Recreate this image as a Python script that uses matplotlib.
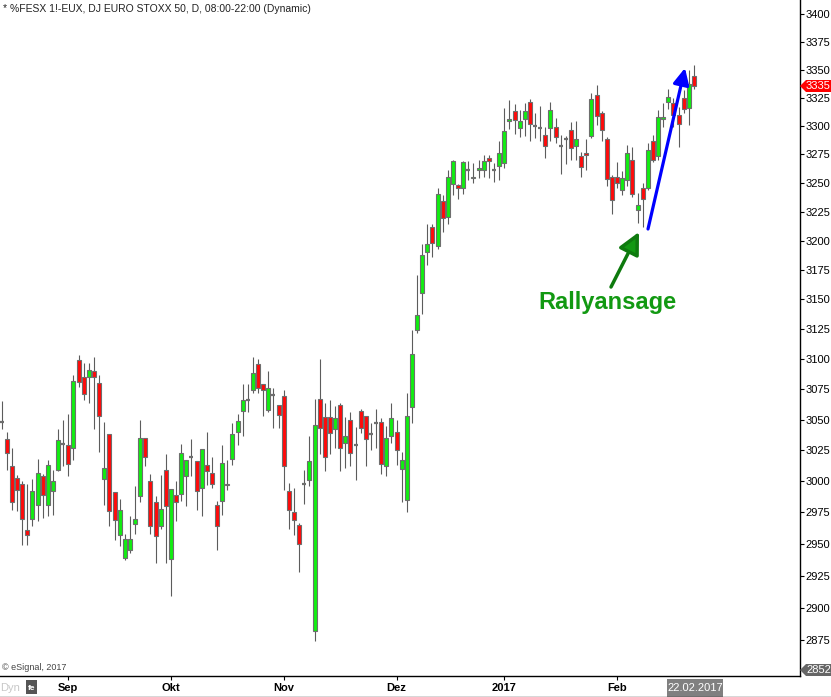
import matplotlib
matplotlib.use('Agg')
import matplotlib.pyplot as plt
from matplotlib.patches import Polygon, Rectangle
from matplotlib.lines import Line2D
from matplotlib.ticker import FixedLocator, FuncFormatter, NullLocator
import numpy as np

plt.rcParams['font.family'] = ['Liberation Sans', 'DejaVu Sans']

# ---- data (daily OHLC, 16.08.2016 - 22.02.2017) ----
opens = [3048, 3034, 3012, 3003, 2998, 2961, 2970, 2981, 3004, 2981,
         2992, 3009, 3030, 3029, 3027, 3099, 3085, 3085, 3090, 3080,
         3002, 3038, 2991, 2957, 2939, 2945, 2966, 2988, 3035, 3000,
         2983, 2964, 3009, 2938, 2989, 2990, 3004, 3020, 3016, 2995,
         3013, 3007, 2981, 2984, 2998, 3018, 3040, 3057, 3066, 3074,
         3096, 3079, 3058, 3070, 3062, 3069, 2992, 2975, 2965, 2998,
         3001, 2882, 3067, 3052, 3052, 3042, 3062, 3031, 3050, 3029,
         3057, 3053, 3038, 3047, 3048, 3012, 3037, 3040, 3010, 2985,
         3060, 3124, 3155, 3190, 3212, 3195, 3234, 3220, 3249, 3248,
         3245, 3261, 3254, 3261, 3261, 3272, 3261, 3265, 3267, 3304,
         3313, 3298, 3306, 3321, 3300, 3298, 3292, 3298, 3299, 3282,
         3288, 3296, 3282, 3273, 3276, 3291, 3327, 3311, 3288, 3255,
         3255, 3244, 3252, 3270, 3226, 3245, 3245, 3287, 3273, 3306,
         3321, 3320, 3310, 3325, 3316, 3344]
highs = [3065, 3040, 3027, 3005, 3000, 2998, 3002, 3018, 3006, 3017,
         3009, 3042, 3050, 3055, 3087, 3103, 3097, 3097, 3102, 3087,
         3048, 3038, 2991, 2986, 2958, 2972, 2996, 3050, 3035, 3006,
         2988, 3005, 3022, 2994, 3000, 3030, 3017, 3034, 3016, 3026,
         3040, 3020, 2984, 3029, 3017, 3047, 3055, 3079, 3079, 3102,
         3100, 3079, 3090, 3076, 3062, 3074, 2999, 2995, 2967, 3009,
         3037, 3067, 3100, 3064, 3066, 3061, 3064, 3052, 3056, 3044,
         3059, 3053, 3047, 3059, 3051, 3045, 3064, 3050, 3024, 3072,
         3124, 3171, 3197, 3214, 3214, 3245, 3239, 3261, 3270, 3249,
         3269, 3269, 3267, 3270, 3274, 3274, 3267, 3287, 3316, 3323,
         3319, 3314, 3320, 3324, 3311, 3318, 3299, 3321, 3307, 3292,
         3291, 3303, 3304, 3277, 3288, 3329, 3336, 3313, 3290, 3257,
         3268, 3260, 3283, 3281, 3241, 3250, 3285, 3292, 3314, 3320,
         3333, 3325, 3317, 3332, 3350, 3354]
lows = [3042, 3009, 2977, 2976, 2949, 2949, 2964, 2968, 2971, 2972,
        2973, 3008, 3012, 3004, 3017, 3077, 3066, 3064, 3042, 3024,
        2981, 2964, 2953, 2948, 2937, 2943, 2958, 2983, 3012, 2958,
        2935, 2962, 2935, 2909, 2968, 2984, 2980, 3004, 2977, 2972,
        2997, 2995, 2945, 2973, 2993, 3013, 3029, 3037, 3056, 3072,
        3072, 3053, 3056, 3043, 3043, 2993, 2962, 2957, 2928, 2982,
        2996, 2874, 3022, 3008, 3022, 3027, 3008, 3011, 3012, 3001,
        3039, 3012, 3025, 3027, 3006, 3004, 3031, 3013, 2983, 2975,
        3047, 3122, 3138, 3179, 3186, 3193, 3207, 3214, 3239, 3236,
        3240, 3252, 3250, 3254, 3255, 3254, 3251, 3252, 3263, 3297,
        3293, 3290, 3291, 3287, 3289, 3287, 3272, 3287, 3285, 3258,
        3266, 3270, 3270, 3255, 3261, 3289, 3301, 3287, 3247, 3223,
        3245, 3239, 3247, 3238, 3215, 3212, 3244, 3268, 3270, 3299,
        3315, 3299, 3281, 3311, 3301, 3333]
closes = [3048, 3023, 2983, 2993, 2970, 2957, 2992, 3007, 2989, 3013,
          3000, 3033, 3030, 3014, 3082, 3081, 3071, 3091, 3085, 3053,
          3011, 2976, 2969, 2977, 2954, 2954, 2970, 3035, 3020, 2964,
          2956, 2978, 2980, 2994, 2983, 3023, 3017, 3020, 2992, 3026,
          3008, 2998, 2964, 3015, 2997, 3038, 3049, 3066, 3066, 3088,
          3076, 3074, 3076, 3070, 3054, 3012, 2977, 2969, 2950, 2998,
          3016, 3046, 3043, 3020, 3039, 3051, 3027, 3037, 3023, 3029,
          3043, 3034, 3038, 3047, 3014, 3035, 3051, 3025, 3017, 3053,
          3104, 3137, 3188, 3197, 3198, 3240, 3219, 3255, 3269, 3245,
          3268, 3261, 3255, 3263, 3269, 3269, 3261, 3276, 3295, 3306,
          3305, 3304, 3313, 3302, 3300, 3298, 3282, 3314, 3290, 3282,
          3288, 3280, 3288, 3264, 3274, 3324, 3309, 3296, 3253, 3235,
          3250, 3254, 3276, 3240, 3231, 3236, 3279, 3270, 3308, 3308,
          3326, 3310, 3302, 3315, 3337, 3335]

month_labels = ['Sep', 'Okt', 'Nov', 'Dez', '2017', 'Feb']
month_ticks = [13, 33, 55, 77, 98, 120]
price_ticks = list(range(2875, 3401, 25))
last_price = 3335
low_marker = 2852
last_date = '22.02.2017'
title = '* %FESX 1!-EUX, DJ EURO STOXX 50, D, 08:00-22:00 (Dynamic)'

W, H = 831, 697
fig = plt.figure(figsize=(W / 100, H / 100), dpi=100)
fig.patch.set_facecolor('white')


def fx(x):
    return x / W


def fy(y):
    return 1 - y / H


ax = fig.add_axes([0, 1 - 676 / H, 800 / W, 676 / H])
ax.set_facecolor('white')

o = np.array(opens, float)
h = np.array(highs, float)
l = np.array(lows, float)
c = np.array(closes, float)
x = np.arange(len(o))

ax.set_yscale('log')
ax.vlines(x, l, h, color='#5c5c5c', lw=0.8, zorder=1)
up = c > o
dn = c < o
dj = c == o
bw = 0.78
ax.bar(x[up], (c - o)[up], bottom=o[up], width=bw, color='#11ee11',
       edgecolor='#6e6e6e', lw=0.8, zorder=2)
ax.bar(x[dn], (o - c)[dn], bottom=c[dn], width=bw, color='#ff0a0a',
       edgecolor='#6e6e6e', lw=0.8, zorder=2)
ax.hlines(o[dj], x[dj] - bw / 2, x[dj] + bw / 2, color='#6e6e6e', lw=1.6, zorder=2)

ax.set_xlim(-0.33, 155.67)
ax.set_ylim(2847.4, 3413.2)

ax.yaxis.tick_right()
ax.yaxis.set_major_locator(FixedLocator(price_ticks))
ax.yaxis.set_major_formatter(FuncFormatter(lambda v, p: f'{v:.0f}'))
ax.yaxis.set_minor_locator(NullLocator())
ax.yaxis.set_minor_formatter(FuncFormatter(lambda v, p: ''))
ax.tick_params(axis='y', length=3, width=0.8, pad=1, labelsize=8, colors='black')

ax.set_xticks(month_ticks)
ax.set_xticklabels(month_labels, fontweight='bold', fontsize=8)
ax.tick_params(axis='x', length=3, width=0.8, pad=2)

for s in ['top', 'left']:
    ax.spines[s].set_visible(False)
for s in ['right', 'bottom']:
    ax.spines[s].set_linewidth(1.0)
    ax.spines[s].set_color('black')

# title and copyright
fig.text(fx(3), fy(9), title, fontsize=7.5, ha='left', va='center', color='#222222')
fig.text(fx(2), fy(667), '© eSignal, 2017', fontsize=6.5, ha='left', va='center', color='#444444')

# price markers on the right
red_pts = [(800, 86), (806, 80), (831, 80), (831, 92), (806, 92)]
fig.add_artist(Polygon([(fx(a), fy(b)) for a, b in red_pts], closed=True,
                       transform=fig.transFigure, facecolor='#ff0000', edgecolor='none', zorder=5))
fig.text(fx(818.5), fy(86), f'{last_price}', fontsize=8, color='white', ha='center', va='center', zorder=6)
gray_pts = [(800, 670), (806, 664), (831, 664), (831, 676), (806, 676)]
fig.add_artist(Polygon([(fx(a), fy(b)) for a, b in gray_pts], closed=True,
                       transform=fig.transFigure, facecolor='#666666', edgecolor='none', zorder=5))
fig.text(fx(818.5), fy(670), f'{low_marker}', fontsize=8, color='white', ha='center', va='center', zorder=6)

# bottom bar elements
fig.text(fx(0), fy(688), 'Dyn', fontsize=8, color='#c8c8c8', ha='left', va='center')
fig.add_artist(Rectangle((fx(26), fy(694)), 11 / W, 14 / H, transform=fig.transFigure,
                         facecolor='#555555', edgecolor='none'))
fig.text(fx(31.5), fy(688), 'fe', fontsize=6, color='white', ha='center', va='center', fontweight='bold')
fig.add_artist(Rectangle((fx(667), fy(697)), 56 / W, 18 / H, transform=fig.transFigure,
                         facecolor='#808080', edgecolor='none'))
fig.text(fx(695), fy(688), last_date, fontsize=8, color='white', ha='center', va='center')
fig.add_artist(Line2D([0, 1], [fy(696.5), fy(696.5)], transform=fig.transFigure, color='#333333', lw=1))

# annotations
ax.annotate('', xy=(685, H - 68), xytext=(648, H - 229),
            xycoords='figure pixels', textcoords='figure pixels',
            arrowprops=dict(arrowstyle='-|>,head_length=0.45,head_width=0.22',
                            color='#0000ff', lw=2.3, mutation_scale=22,
                            shrinkA=0, shrinkB=0), zorder=10)
ax.annotate('', xy=(639, H - 232), xytext=(611, H - 287),
            xycoords='figure pixels', textcoords='figure pixels',
            arrowprops=dict(arrowstyle='-|>,head_length=0.6,head_width=0.3',
                            facecolor='#129912', edgecolor='#0e7a0e', lw=2.5,
                            mutation_scale=22, shrinkA=0, shrinkB=0), zorder=10)
fig.text(fx(607), fy(303), 'Rallyansage', fontsize=17, fontweight='bold',
         color='#129912', ha='center', va='center')

fig.savefig('out.png', dpi=100, facecolor='white')
